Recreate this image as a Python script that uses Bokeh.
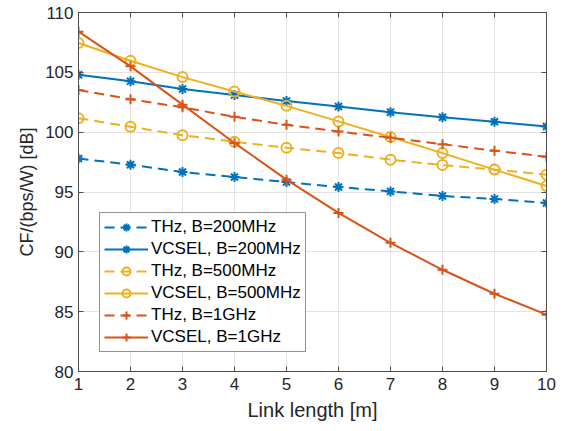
from bokeh.plotting import figure
from bokeh.models import (Range1d, LinearAxis, FixedTicker, Legend, LegendItem,
                          CustomJSTickFormatter)
from bokeh.embed import file_html
from bokeh.resources import INLINE

# ---- data ----
link_len = [1, 2, 3, 4, 5, 6, 7, 8, 9, 10]
thz_200 = [97.8, 97.28, 96.67, 96.25, 95.83, 95.42, 95.05, 94.67, 94.42, 94.08]
vcsel_200 = [104.8, 104.25, 103.6, 103.1, 102.6, 102.14, 101.67, 101.25, 100.87, 100.47]
thz_500 = [101.17, 100.45, 99.75, 99.2, 98.7, 98.25, 97.7, 97.25, 96.87, 96.45]
vcsel_500 = [107.45, 105.97, 104.6, 103.4, 102.2, 100.9, 99.6, 98.25, 96.87, 95.5]
thz_1g = [103.53, 102.75, 102.08, 101.28, 100.62, 100.06, 99.53, 99.0, 98.45, 97.95]
vcsel_1g = [108.4, 105.5, 102.3, 99.1, 96.03, 93.25, 90.75, 88.5, 86.5, 84.75]
x_ticks = [1, 2, 3, 4, 5, 6, 7, 8, 9, 10]
y_ticks = [80, 85, 90, 95, 100, 105, 110]
labels = ["THz, B=200MHz", "VCSEL, B=200MHz", "THz, B=500MHz",
          "VCSEL, B=500MHz", "THz, B=1GHz", "VCSEL, B=1GHz"]

BLUE = "#0072BD"
RED = "#D95319"
YEL = "#EDB120"
FONT = "Liberation Sans"
AX = "#262626"

p = figure(width=566, height=428, output_backend="svg", toolbar_location=None,
           x_range=Range1d(1, 10), y_range=Range1d(80, 110),
           min_border_left=78, min_border_right=20, min_border_top=12,
           min_border_bottom=57)
p.outline_line_color = "#4d4d4d"
p.outline_line_width = 1
p.background_fill_color = "white"

for ax in (p.xaxis[0], p.yaxis[0]):
    ax.major_label_text_font = FONT
    ax.major_label_text_font_size = "17px"
    ax.major_label_text_color = AX
    ax.axis_label_text_font = FONT
    ax.axis_label_text_font_style = "normal"
    ax.axis_label_text_color = AX
    ax.axis_line_color = "#4d4d4d"
    ax.major_tick_line_color = "#4d4d4d"
    ax.major_tick_in = 5
    ax.major_tick_out = 0
    ax.minor_tick_line_color = None
p.xaxis[0].ticker = FixedTicker(ticks=x_ticks)
p.yaxis[0].ticker = FixedTicker(ticks=y_ticks)
p.xaxis[0].axis_label = "Link length [m]"
p.yaxis[0].axis_label = "CF/(bps/W) [dB]"
p.xaxis[0].axis_label_text_font_size = "20px"
p.yaxis[0].axis_label_text_font_size = "18px"
p.xaxis[0].major_label_standoff = 6
p.yaxis[0].major_label_standoff = 5
p.xaxis[0].axis_label_standoff = 6

blank = CustomJSTickFormatter(code="return ''")
for loc, tick in (("right", y_ticks), ("above", x_ticks)):
    a = LinearAxis(ticker=FixedTicker(ticks=tick), formatter=blank,
                   major_tick_in=5, major_tick_out=0, minor_tick_line_color=None,
                   axis_line_color="#4d4d4d", major_tick_line_color="#4d4d4d",
                   major_label_standoff=0)
    p.add_layout(a, loc)

p.xgrid.ticker = FixedTicker(ticks=x_ticks)
p.ygrid.ticker = FixedTicker(ticks=y_ticks)
p.grid.grid_line_color = "#e3e3e3"
p.grid.grid_line_width = 1

series = [
    (thz_200, BLUE, "dashed", "asterisk"),
    (vcsel_200, BLUE, "solid", "asterisk"),
    (thz_500, YEL, "dashed", "circle"),
    (vcsel_500, YEL, "solid", "circle"),
    (thz_1g, RED, "dashed", "cross"),
    (vcsel_1g, RED, "solid", "cross"),
]
items = []
for (ys, col, dash, mk), lab in zip(series, labels):
    ld = "10 6" if dash == "dashed" else "solid"
    ln = p.line(link_len, ys, line_color=col, line_width=2, line_dash=ld)
    sc = p.scatter(link_len, ys, marker=mk, size=10, line_color=col,
                   fill_color=None, line_width=2)
    items.append(LegendItem(label=lab, renderers=[ln, sc]))

leg = Legend(items=items, location=(21, 19), label_text_font=FONT,
             label_text_font_size="17px", label_text_color="#000000",
             glyph_width=44, glyph_height=20, spacing=2, label_standoff=3,
             padding=4, margin=0, border_line_color="#262626",
             border_line_width=1, background_fill_alpha=1,
             label_height=20)
p.add_layout(leg, "center")

open("out.html", "w").write(file_html(p, INLINE))
